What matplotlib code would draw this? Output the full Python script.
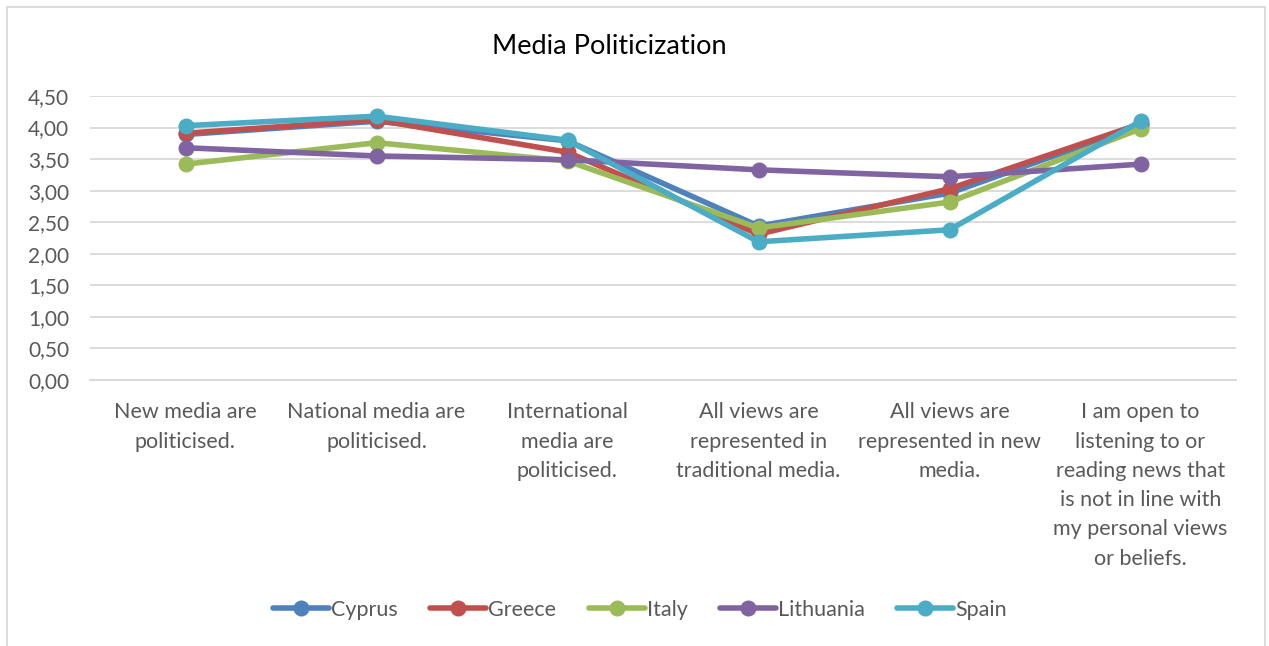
import matplotlib
matplotlib.use("Agg")
import matplotlib.pyplot as plt
from matplotlib.patches import Rectangle
from matplotlib.ticker import FuncFormatter

categories = [
    "New media are\npoliticised.",
    "National media are\npoliticised.",
    "International\nmedia are\npoliticised.",
    "All views are\nrepresented in\ntraditional media.",
    "All views are\nrepresented in new\nmedia.",
    "I am open to\nlistening to or\nreading news that\nis not in line with\nmy personal views\nor beliefs.",
]
cyprus = [3.89, 4.10, 3.79, 2.44, 2.96, 4.04]
greece = [3.91, 4.12, 3.61, 2.31, 3.03, 4.06]
italy = [3.42, 3.76, 3.47, 2.41, 2.82, 3.98]
lithuania = [3.68, 3.55, 3.49, 3.33, 3.22, 3.42]
spain = [4.03, 4.18, 3.80, 2.19, 2.38, 4.10]
series_names = ["Cyprus", "Greece", "Italy", "Lithuania", "Spain"]
colors = ["#4F81BD", "#C0504D", "#9BBB59", "#8064A2", "#4BACC6"]

plt.rcParams['font.family'] = ['Lato', 'DejaVu Sans']

W, H = 1269, 646
fig = plt.figure(figsize=(W / 100, H / 100), dpi=100)
ax = fig.add_axes([90 / W, 1 - 380 / H, (1236 - 90) / W, (380 - 96) / H])

x = list(range(len(categories)))
for vals, name, c in zip([cyprus, greece, italy, lithuania, spain], series_names, colors):
    ax.plot(x, vals, color=c, lw=4.0, marker='o', markersize=10.5,
            solid_capstyle='round', label=name, zorder=3)

ax.set_xlim(-0.5, len(categories) - 0.5)
ax.set_ylim(0, 4.5)
ax.set_yticks([i * 0.5 for i in range(10)])
ax.yaxis.set_major_formatter(FuncFormatter(lambda v, p: f"{v:.2f}".replace(".", ",")))
ax.grid(axis='y', color='#D9D9D9', lw=1.3, zorder=0)
ax.set_xticks(x)
ax.set_xticklabels(categories, fontsize=15.5, color='#595959', linespacing=1.58, va='top')
ax.tick_params(axis='x', length=0, pad=16)
ax.tick_params(axis='y', length=0, pad=15, labelsize=15, labelcolor='#595959')
for s in ['top', 'right', 'left']:
    ax.spines[s].set_visible(False)
ax.spines['bottom'].set_color('#D9D9D9')
ax.spines['bottom'].set_linewidth(1.3)

fig.text(609 / W, 1 - 46 / H, "Media Politicization", ha='center', va='center',
         fontsize=19.5, color='black')

fig.legend(loc='center', bbox_to_anchor=(640 / W, 1 - 610 / H), ncol=5, frameon=False,
           fontsize=15.5, handlelength=2.6, columnspacing=1.5, handletextpad=0.1,
           labelcolor='#595959')

fig.patches.append(Rectangle((7 / W, -0.05), (1265 - 7) / W, 1.05 - 7 / H,
                             transform=fig.transFigure, fill=False,
                             edgecolor='#D9D9D9', lw=1.3))

fig.savefig("out.png", dpi=100, facecolor='white')
